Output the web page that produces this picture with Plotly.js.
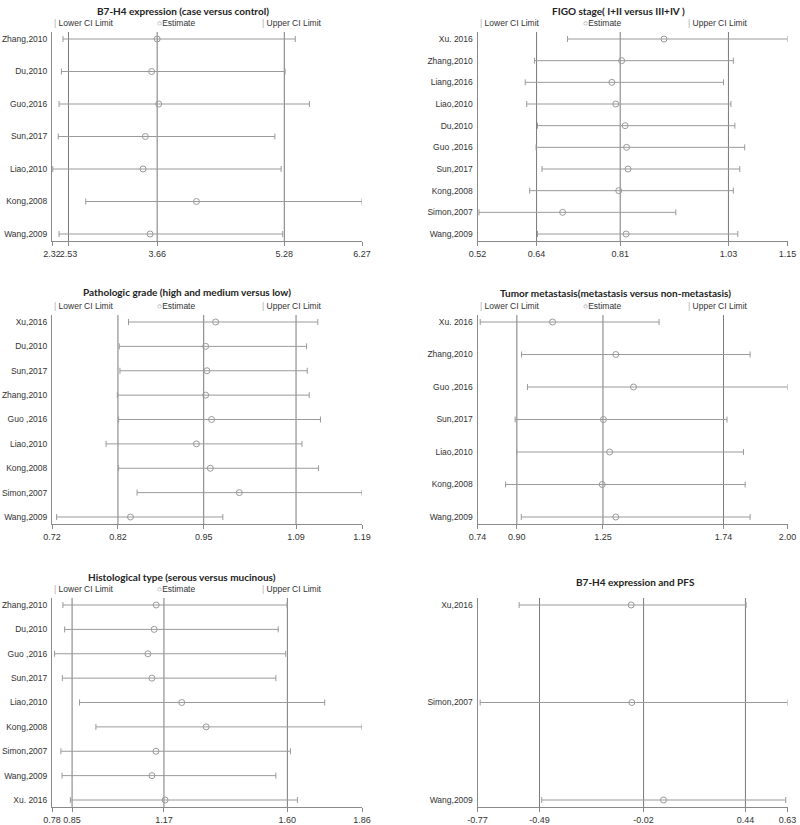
<!DOCTYPE html>
<html>
<head>
<meta charset="utf-8">
<script src="https://cdn.plot.ly/plotly-3.0.1.min.js"></script>
<style>html,body{margin:0;padding:0;background:#fff;}#chart{width:800px;height:825px;}</style>
</head>
<body>
<div id="chart"></div>
<script>
// ---------- Data ----------
const p1Title = "B7-H4 expression (case versus control)";
const p1Labels = ["Zhang,2010","Du,2010","Guo,2016","Sun,2017","Liao,2010","Kong,2008","Wang,2009"];
const p1Lower = [2.46,2.44,2.41,2.40,2.33,2.75,2.41];
const p1Est   = [3.66,3.59,3.68,3.51,3.48,4.16,3.57];
const p1Upper = [5.42,5.29,5.60,5.16,5.24,6.27,5.26];
const p1Ticks = [2.32,2.53,3.66,5.28,6.27];

const p2Title = "FIGO stage( I+II versus III+IV )";
const p2Labels = ["Xu. 2016","Zhang,2010","Liang,2016","Liao,2010","Du,2010","Guo ,2016","Sun,2017","Kong,2008","Simon,2007","Wang,2009"];
const p2Lower = [0.703,0.636,0.617,0.620,0.642,0.639,0.651,0.626,0.523,0.642];
const p2Est   = [0.899,0.813,0.793,0.801,0.820,0.823,0.826,0.807,0.693,0.822];
const p2Upper = [1.150,1.040,1.020,1.035,1.043,1.063,1.053,1.040,0.923,1.049];
const p2Ticks = [0.52,0.64,0.81,1.03,1.15];

const p3Title = "Pathologic grade (high and medium versus low)";
const p3Labels = ["Xu,2016","Du,2010","Sun,2017","Zhang,2010","Guo ,2016","Liao,2010","Kong,2008","Simon,2007","Wang,2009"];
const p3Lower = [0.836,0.822,0.823,0.819,0.821,0.802,0.821,0.849,0.727];
const p3Est   = [0.968,0.953,0.955,0.953,0.962,0.939,0.960,1.004,0.839];
const p3Upper = [1.123,1.106,1.107,1.110,1.127,1.099,1.124,1.190,0.979];
const p3Ticks = [0.72,0.82,0.95,1.09,1.19];

const p4Title = "Tumor metastasis(metastasis versus non-metastasis)";
const p4Labels = ["Xu. 2016","Zhang,2010","Guo ,2016","Sun,2017","Liao,2010","Kong,2008","Wang,2009"];
const p4Lower = [0.751,0.919,0.943,0.893,0.899,0.854,0.918];
const p4Est   = [1.045,1.302,1.374,1.252,1.277,1.247,1.302];
const p4Upper = [1.478,1.848,2.000,1.754,1.821,1.828,1.848];
const p4Ticks = [0.74,0.90,1.25,1.74,2.00];

const p5Title = "Histological type (serous versus mucinous)";
const p5Labels = ["Zhang,2010","Du,2010","Guo ,2016","Sun,2017","Liao,2010","Kong,2008","Simon,2007","Wang,2009","Xu. 2016"];
const p5Lower = [0.818,0.824,0.789,0.816,0.876,0.933,0.811,0.815,0.844];
const p5Est   = [1.143,1.136,1.114,1.128,1.232,1.317,1.142,1.128,1.174];
const p5Upper = [1.599,1.568,1.594,1.560,1.730,1.860,1.611,1.560,1.635];
const p5Ticks = [0.78,0.85,1.17,1.60,1.86];

const p6Title = "B7-H4 expression and PFS";
const p6Labels = ["Xu,2016","Simon,2007","Wang,2009"];
const p6Lower = [-0.582,-0.758,-0.480];
const p6Est   = [-0.076,-0.073,0.070];
const p6Upper = [0.443,0.630,0.622];
const p6Ticks = [-0.77,-0.49,-0.02,0.44,0.63];

// ---------- Layout geometry ----------
const W = 800, H = 825;
const panels = [
  {title:p1Title, labels:p1Labels, lo:p1Lower, est:p1Est, hi:p1Upper, ticks:p1Ticks, px:[52,362], py:[32,241], tpos:[183,11], legend:true},
  {title:p2Title, labels:p2Labels, lo:p2Lower, est:p2Est, hi:p2Upper, ticks:p2Ticks, px:[477.5,787.5], py:[32,241], tpos:[618,11], legend:true},
  {title:p3Title, labels:p3Labels, lo:p3Lower, est:p3Est, hi:p3Upper, ticks:p3Ticks, px:[52,362], py:[315,524], tpos:[187,292], legend:true},
  {title:p4Title, labels:p4Labels, lo:p4Lower, est:p4Est, hi:p4Upper, ticks:p4Ticks, px:[477.5,787.5], py:[315,524], tpos:[615,293], legend:true},
  {title:p5Title, labels:p5Labels, lo:p5Lower, est:p5Est, hi:p5Upper, ticks:p5Ticks, px:[52,362], py:[598,807], tpos:[182,577], legend:true},
  {title:p6Title, labels:p6Labels, lo:p6Lower, est:p6Est, hi:p6Upper, ticks:p6Ticks, px:[477.5,787.5], py:[598,807], tpos:[635,582], legend:false}
];

const txtFont = "Liberation Sans, Arial, sans-serif";
const titleFont = "Lato, Open Sans, sans-serif";
const lineCol = "#9a9a9a";
const gridCol = "#7a7a7a";
const axisCol = "#8a8a8a";
const textCol = "#333333";

const data = [];
const layout = {
  width: W, height: H,
  margin: {l:0, r:0, t:0, b:0},
  paper_bgcolor: "#fff", plot_bgcolor: "#fff",
  showlegend: false,
  annotations: [], shapes: []
};

panels.forEach((p, i) => {
  const k = i === 0 ? "" : String(i+1);
  const n = p.labels.length;
  const ys = p.labels.map((_, j) => n - 1 - j);
  const hPx = p.py[1] - p.py[0];
  const pad = 7 / ((hPx - 14) / Math.max(n - 1, 1));
  data.push({
    type: "scatter", mode: "markers",
    x: p.est, y: ys, xaxis: "x"+k, yaxis: "y"+k,
    cliponaxis: false,
    marker: {symbol: "circle-open", size: 6, color: lineCol, line: {width: 1, color: lineCol}},
    error_x: {type: "data", symmetric: false,
      array: p.hi.map((h, j) => h - p.est[j]),
      arrayminus: p.lo.map((l, j) => p.est[j] - l),
      color: lineCol, thickness: 1, width: 3},
    hoverinfo: "skip"
  });
  layout["xaxis"+k] = {
    domain: [p.px[0]/W, p.px[1]/W], anchor: "y"+k,
    range: [p.ticks[0], p.ticks[p.ticks.length-1]],
    tickvals: p.ticks, ticktext: p.ticks.map(v => v.toFixed(2)), tickangle: 0,
    showgrid: false, zeroline: false, showline: true, linecolor: axisCol, linewidth: 1,
    ticks: "outside", ticklen: 4, tickcolor: axisCol,
    tickfont: {family: txtFont, size: 9, color: textCol}, fixedrange: true
  };
  layout["yaxis"+k] = {
    domain: [1 - p.py[1]/H, 1 - p.py[0]/H], anchor: "x"+k,
    range: [-pad, n - 1 + pad],
    tickvals: ys, ticktext: p.labels,
    showgrid: false, zeroline: false, showline: true, linecolor: axisCol, linewidth: 1,
    ticks: "outside", ticklen: 2, tickcolor: "rgba(0,0,0,0)",
    tickfont: {family: txtFont, size: 8.5, color: textCol}, fixedrange: true
  };
  // pooled reference lines (inner three ticks)
  p.ticks.slice(1, 4).forEach(v => {
    layout.shapes.push({type: "line", xref: "x"+k, yref: "y"+k+" domain", x0: v, x1: v, y0: 0, y1: 1,
      line: {color: gridCol, width: 1}, layer: "below"});
  });
  layout.annotations.push({
    xref: "paper", yref: "paper", x: p.tpos[0]/W, y: 1 - p.tpos[1]/H,
    xanchor: "center", yanchor: "middle", showarrow: false,
    text: "<b>" + p.title + "</b>",
    font: {family: titleFont, size: 10, color: "#222"}
  });
  if (p.legend) {
    const ly = 1 - (p.py[0] - 9)/H;
    const x0 = p.px[0];
    const items = [
      {dx: 0, t: '<span style="color:#aaa">|</span> Lower CI Limit'},
      {dx: 103, t: '<span style="color:#888">○</span>Estimate'},
      {dx: 208, t: '<span style="color:#aaa">|</span> Upper CI Limit'}
    ];
    items.forEach(it => layout.annotations.push({
      xref: "paper", yref: "paper", x: (x0 + it.dx)/W, y: ly,
      xanchor: "left", yanchor: "middle", showarrow: false, text: it.t,
      font: {family: txtFont, size: 8.5, color: textCol}
    }));
  }
});

Plotly.newPlot("chart", data, layout, {staticPlot: true, displayModeBar: false});
</script>
</body>
</html>
